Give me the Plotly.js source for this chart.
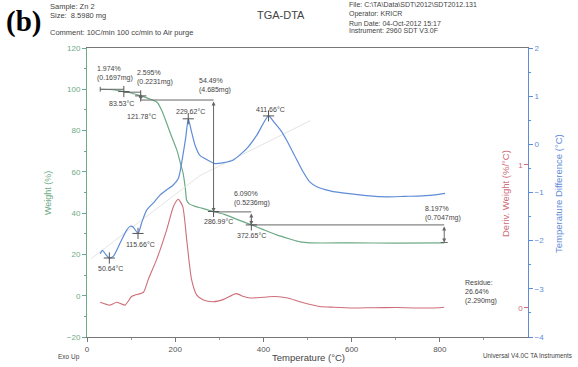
<!DOCTYPE html>
<html>
<head>
<meta charset="utf-8">
<script src="https://cdn.plot.ly/plotly-3.0.1.min.js"></script>
<style>html,body{margin:0;padding:0;background:#fff;}#chart{width:578px;height:367px;}</style>
</head>
<body>
<div id="chart"></div>
<script>
// ---- data ----
var weightT = [30, 50, 70, 83.53, 100, 121.78, 140, 159, 170, 181, 192, 204, 212, 218, 223, 226, 232, 245, 260, 287, 310, 340, 373, 400, 430, 460, 483, 506, 600, 700, 810];
var weightPct = [100, 99.9, 99.4, 98.9, 98.2, 96.8, 95.5, 93.7, 89.5, 83.4, 77, 70.4, 64, 59.3, 52, 46.2, 44.5, 43.3, 42.4, 40.8, 39.5, 37.0, 34.3, 32.0, 29.5, 27.5, 26.1, 25.6, 25.6, 25.5, 25.6];

var dtaT = [30, 35, 42, 50.64, 60, 75, 90, 98, 105, 115.66, 125, 135, 150, 165, 180, 195, 207, 211, 218, 224, 229.62, 236, 245, 256, 274, 290, 310, 331, 362, 385, 411.66, 425, 440, 453, 470, 490, 505, 521, 540, 558, 600, 640, 680, 720, 760, 790, 812];
var dtaV = [-2.27, -2.2, -2.28, -2.36, -2.32, -2.05, -1.78, -1.70, -1.72, -1.85, -1.6, -1.37, -1.22, -1.06, -0.95, -0.85, -0.71, -0.57, -0.2, 0.15, 0.53, 0.3, -0.02, -0.23, -0.33, -0.40, -0.38, -0.33, -0.09, 0.19, 0.59, 0.45, 0.28, 0.08, -0.22, -0.57, -0.78, -0.88, -0.94, -0.98, -1.03, -1.07, -1.09, -1.08, -1.07, -1.05, -1.02];

var derivT = [30, 52, 67, 86, 101, 109, 128, 139, 158, 181, 196, 207, 217, 226, 237, 249, 264, 286, 310, 338, 355, 370, 400, 426, 455, 483, 528, 560, 603, 650, 700, 750, 800, 810];
var derivV = [0.04, 0.02, 0.04, 0.02, 0.08, 0.09, 0.11, 0.20, 0.34, 0.55, 0.71, 0.76, 0.71, 0.48, 0.20, 0.09, 0.056, 0.044, 0.06, 0.10, 0.08, 0.07, 0.075, 0.08, 0.07, 0.044, 0.01, 0.005, 0.0, 0.002, 0.003, 0.0, 0.002, 0.005];

var baseT = [10, 256, 506];
var baseV = [-2.37, -0.65, 0.49];

var stepTemps = [30, 83.53, 121.78, 286.99, 372.65, 810];
var stepLevels = [100, 98.6, 94.8, 40.6, 34.3, 25.8];
var stepText = ["1.974%<br>(0.1697mg)", "2.595%<br>(0.2231mg)", "54.49%<br>(4.685mg)", "6.090%<br>(0.5236mg)", "8.197%<br>(0.7047mg)"];
var stepTextT = [18, 109, 249, 329, 762];
var stepTextW = [107.5, 105.6, 102, 47.2, 40];

var markWT = [83.53, 121.78, 286.99, 372.65];
var markW = [98.9, 96.8, 40.8, 34.3];
var dtaPeakT = [50.64, 115.66, 229.62, 411.66];
var dtaPeakV = [-2.36, -1.85, 0.53, 0.59];

var tempLabels = ["83.53°C", "121.78°C", "229.62°C", "411.66°C", "286.99°C", "372.65°C", "115.66°C", "50.64°C", "Residue:<br>26.64%<br>(2.290mg)"];
var tempLabelT = [45, 86, 197, 379, 261, 336, 84, 20, 853];
var tempLabelW = [93.1, 86.8, 89.2, 90.2, 36.1, 29.3, 25, 13.4, 1.8];

// ---- styles ----
var GREEN = 'rgb(110,170,135)';
var BLUE = 'rgb(95,140,215)';
var RED = 'rgb(205,110,120)';
var DARK = '#555';
var FONT = 'Liberation Sans, Arial, sans-serif';

function px(x){ return (x - 87) / 441; }
function py(y){ return (337 - y) / 289; }

// measurement step lines (horizontal segments)
var hx = [], hy = [];
for (var i = 0; i < stepTemps.length - 1; i++) {
  hx.push(stepTemps[i], stepTemps[i+1], null);
  hy.push(stepLevels[i], stepLevels[i], null);
}
hx.push(stepTemps[0], stepTemps[0], null);
hy.push(stepLevels[0] + 1.2, stepLevels[0] - 1.2, null);
var last = stepTemps.length - 1;
hx.push(stepTemps[last] - 8, stepTemps[last] + 8, null);
hy.push(stepLevels[last], stepLevels[last], null);

var traces = [
  {x: baseT, y: baseV, yaxis: 'y2', mode: 'lines', line: {color: 'rgb(228,228,228)', width: 1}, hoverinfo: 'skip'},
  {x: weightT, y: weightPct, mode: 'lines', line: {color: GREEN, width: 1.2, shape: 'spline', smoothing: 0.6}},
  {x: dtaT, y: dtaV, yaxis: 'y2', mode: 'lines', line: {color: BLUE, width: 1.2, shape: 'spline', smoothing: 0.6}},
  {x: derivT, y: derivV, yaxis: 'y3', mode: 'lines', line: {color: RED, width: 1.1, shape: 'spline', smoothing: 0.6}},
  {x: hx, y: hy, mode: 'lines', line: {color: '#666', width: 1}, hoverinfo: 'skip'},
  {x: markWT, y: markW, mode: 'markers', marker: {symbol: 'cross-thin', size: 8, line: {color: '#555', width: 1}}},
  {x: dtaPeakT, y: dtaPeakV, yaxis: 'y2', mode: 'markers', marker: {symbol: 'cross-thin', size: 8, line: {color: '#555', width: 1}}}
];

var ann = [];
for (var j = 1; j < stepTemps.length; j++) {
  ann.push({x: stepTemps[j], y: stepLevels[j], ax: stepTemps[j], ay: stepLevels[j-1], xref: 'x', yref: 'y', axref: 'x', ayref: 'y',
    text: '', showarrow: true, arrowhead: 2, arrowsize: 0.8, arrowwidth: 1, arrowcolor: '#666', arrowside: 'end+start'});
}
for (var k = 0; k < stepText.length; k++) {
  ann.push({x: stepTextT[k], y: stepTextW[k], xref: 'x', yref: 'y', text: stepText[k], showarrow: false, xanchor: 'left', yanchor: 'middle', align: 'left',
    font: {family: FONT, size: 7, color: '#444'}});
}
for (var m = 0; m < tempLabels.length; m++) {
  ann.push({x: tempLabelT[m], y: tempLabelW[m], xref: 'x', yref: 'y', text: tempLabels[m], showarrow: false, xanchor: 'left', yanchor: 'middle', align: 'left',
    font: {family: FONT, size: 7, color: '#444'}});
}
function txt(t, x, y, size, opts) {
  var a = {text: t, x: px(x), y: py(y), xref: 'paper', yref: 'paper', showarrow: false, xanchor: 'left', yanchor: 'middle', align: 'left',
    font: {family: FONT, size: size, color: '#444'}};
  for (var key in opts) { if (key === 'font') { for (var f in opts.font) a.font[f] = opts.font[f]; } else a[key] = opts[key]; }
  ann.push(a);
}
txt('Sample: Zn 2', 48, 6, 7.5, {});
txt('Size:  8.5980 mg', 48, 15, 7.5, {});
txt('Comment: 10C/min 100 cc/min to Air purge', 48, 32, 7.5, {});
txt('TGA-DTA', 281, 15, 11, {xanchor: 'center'});
txt('File: C:\\TA\\Data\\SDT\\2012\\SDT2012.131', 347, 5, 7, {});
txt('Operator: KRICR', 347, 14, 7, {});
txt('Run Date: 04-Oct-2012 15:17', 347, 23, 7, {});
txt('Instrument: 2960 SDT V3.0F', 347, 31, 7, {});
txt('<b>(b)</b>', 4, 22, 29, {font: {family: 'Liberation Serif, Times New Roman, serif', color: '#000'}});
txt('Exo Up', 56, 357, 6.5, {});
txt('Temperature (°C)', 308, 357, 9.5, {xanchor: 'center', font: {color: '#444'}});
txt('Universal V4.0C TA Instruments', 574, 356, 6.3, {xanchor: 'right'});
txt('Weight (%)', 48, 193, 9, {xanchor: 'center', textangle: -90, font: {color: GREEN}});
txt('Deriv. Weight (%/°C)', 505, 194, 9.5, {xanchor: 'center', textangle: -90, font: {color: RED}});
txt('Temperature Difference (°C)', 558, 194, 9.5, {xanchor: 'center', textangle: -90, font: {color: BLUE}});

var layout = {
  width: 578, height: 367,
  margin: {l: 87, r: 50, t: 48, b: 30, pad: 0},
  paper_bgcolor: '#fff', plot_bgcolor: '#fff',
  showlegend: false,
  font: {family: FONT, size: 8, color: DARK},
  xaxis: {range: [0, 1000], tickvals: [0, 200, 400, 600, 800, 1000], ticks: 'outside', ticklen: 4, tickcolor: '#777',
    minor: {dtick: 100, ticks: 'outside', ticklen: 2, tickcolor: '#999'},
    showline: true, linecolor: '#777', linewidth: 1, mirror: true, showgrid: false, zeroline: false,
    tickfont: {size: 8, color: '#555'}},
  yaxis: {range: [-20, 120], dtick: 20, ticks: 'outside', ticklen: 4, tickcolor: GREEN,
    minor: {dtick: 10, ticks: 'outside', ticklen: 2, tickcolor: GREEN},
    showline: true, linecolor: GREEN, linewidth: 1, showgrid: false, zeroline: false,
    tickfont: {size: 8, color: GREEN}},
  yaxis2: {overlaying: 'y', side: 'right', anchor: 'x', range: [-4, 2], dtick: 1, ticks: 'outside', ticklen: 4, tickcolor: BLUE,
    minor: {dtick: 0.5, ticks: 'outside', ticklen: 2, tickcolor: BLUE},
    showline: true, linecolor: BLUE, linewidth: 1, showgrid: false, zeroline: false,
    tickfont: {size: 8, color: BLUE}},
  yaxis3: {overlaying: 'y', side: 'right', anchor: 'x', range: [-0.203, 1.818], tickvals: [0, 1], ticks: 'inside', ticklen: 4,
    ticklabelposition: 'inside', tickcolor: RED, showline: false, showgrid: false, zeroline: false,
    tickfont: {size: 8, color: RED}},
  annotations: ann
};

Plotly.newPlot('chart', traces, layout, {staticPlot: true, displayModeBar: false});
</script>
</body>
</html>
